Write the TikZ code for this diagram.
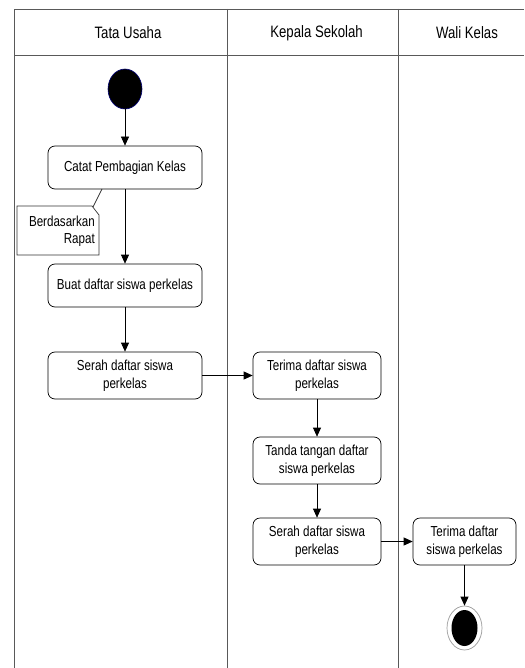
\documentclass[tikz,border=0pt]{standalone}
\usepackage{fontspec}
\setmainfont{Liberation Sans}[FakeStretch=0.8]
\usetikzlibrary{arrows.meta,shapes.geometric}
\begin{document}
\begin{tikzpicture}[x=1pt,y=-1pt,
  lane/.style={draw=black!65, line width=0.8pt},
  act/.style={draw=black, rounded corners=7pt, line width=0.7pt, align=center,
    inner sep=0pt, font=\fontsize{14.5}{18}\selectfont},
  head/.style={font=\fontsize{16.5}{19}\selectfont, inner sep=0pt},
  flow/.style={-{Triangle[length=9pt,width=8pt]}, line width=0.7pt, draw=black},
  notebox/.style={draw=black!80, line width=0.7pt, fill=white}]
\useasboundingbox (0,0) rectangle (524,668);
% swimlanes
\draw[lane] (14,668) -- (14,9) -- (524,9);
\draw[lane] (14,55) -- (524,55);
\draw[lane] (227,9) -- (227,668);
\draw[lane] (398,9) -- (398,668);
\node[head] (h1) at (128,33) {Tata Usaha};
\node[head] (h2) at (316.5,33) {Kepala Sekolah};
\node[head] (h3) at (467,33) {Wali Kelas};
% start
\node[ellipse, fill=black, draw=blue!45!black, line width=0.6pt, minimum width=34pt, minimum height=40pt, inner sep=0pt] (start) at (125,89) {};
% activities
\node[act, minimum width=154pt, minimum height=43pt] (catat) at (125,167.5) {Catat Pembagian Kelas};
\node[act, minimum width=154pt, minimum height=43pt] (buat) at (125,285.5) {Buat daftar siswa perkelas};
\node[act, minimum width=154pt, minimum height=47pt] (serah1) at (125,375.5) {Serah daftar siswa\\perkelas};
\node[act, minimum width=128pt, minimum height=47pt] (terima1) at (317,375.5) {Terima daftar siswa\\perkelas};
\node[act, minimum width=128pt, minimum height=47pt] (tanda) at (317,460.5) {Tanda tangan daftar\\siswa perkelas};
\node[act, minimum width=128pt, minimum height=47pt] (serah2) at (317,541.5) {Serah daftar siswa\\perkelas};
\node[act, minimum width=103pt, minimum height=47pt] (terima2) at (464.5,541.5) {Terima daftar\\siswa perkelas};
% end
\node[ellipse, draw=black!40, line width=0.7pt, minimum width=35pt, minimum height=44pt, inner sep=0pt] (end) at (464.5,628) {};
\node[ellipse, fill=black, minimum width=26pt, minimum height=36pt, inner sep=0pt] (endin) at (end.center) {};
% note
\draw[notebox] (17,206) -- (92,206) -- (99,215) -- (99,255) -- (17,255) -- cycle;
\node[anchor=east, align=right, inner sep=0pt, font=\fontsize{14.5}{17.5}\selectfont] (note) at (95,231.5) {Berdasarkan\\Rapat};
\coordinate (notetip) at (93,207);
\coordinate (catatfoot) at (102,189);
\draw[line width=0.7pt, black!80] (catatfoot) -- (notetip);
% flows
\draw[flow] (start) -- (catat);
\draw[flow] (catat) -- (buat);
\draw[flow] (buat) -- (serah1);
\draw[flow] (serah1) -- (terima1);
\draw[flow] (terima1) -- (tanda);
\draw[flow] (tanda) -- (serah2);
\draw[flow] (serah2) -- (terima2);
\draw[flow] (terima2) -- (end);
\end{tikzpicture}
\end{document}
